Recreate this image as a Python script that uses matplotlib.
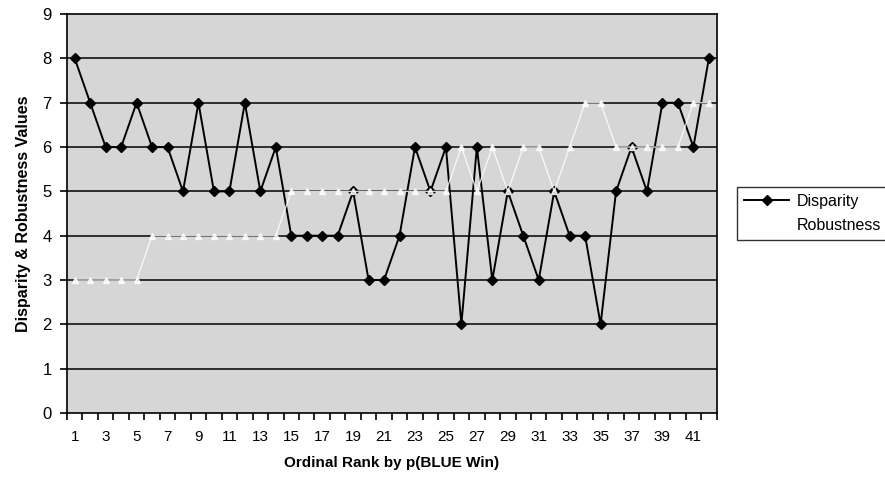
import matplotlib
matplotlib.use("Agg")
import matplotlib.pyplot as plt

plt.rcParams['font.family'] = ['Liberation Sans', 'DejaVu Sans']

# ordinal rank 1..42
ranks = list(range(1, 43))
disparity = [8, 7, 6, 6, 7, 6, 6, 5, 7, 5, 5, 7, 5, 6,
             4, 4, 4, 4, 5, 3, 3, 4, 6, 5, 6, 2, 6, 3,
             5, 4, 3, 5, 4, 4, 2, 5, 6, 5, 7, 7, 6, 8]
# white series, mostly hidden on the grey plot area (estimated)
robustness = [3, 3, 3, 3, 3, 4, 4, 4, 4, 4, 4, 4, 4, 4,
              5, 5, 5, 5, 5, 5, 5, 5, 5, 5, 5, 6, 5, 6,
              5, 6, 6, 5, 6, 7, 7, 6, 6, 6, 6, 6, 7, 7]
tick_labels = [str(r) for r in ranks[::2]]

fig = plt.figure(figsize=(8.85, 4.87), dpi=100)
ax = fig.add_axes([0.0757, 0.152, 0.734, 0.819])
ax.set_facecolor('#d6d6d6')

for v in range(1, 9):
    ax.axhline(v, color='black', linewidth=1.1, zorder=1)

ax.plot(ranks, disparity, color='black', linewidth=1.4, marker='D',
        markersize=5.5, label='Disparity', zorder=3)
ax.plot(ranks, robustness, color='white', linewidth=1.0, marker='^',
        markersize=4, markerfacecolor='white', markeredgecolor='white',
        alpha=0.8, label='Robustness', zorder=4)

ax.set_xlim(0.5, 42.5)
ax.set_ylim(0, 9)
ax.set_yticks(range(0, 10))
ax.set_xticks(ranks[::2])
ax.set_xticklabels(tick_labels)
ax.set_xticks([r + 0.5 for r in range(0, 43)], minor=True)
ax.tick_params(axis='x', which='major', length=0, labelsize=11, pad=12)
ax.tick_params(axis='x', which='minor', length=5, width=1.2, direction='out')
ax.tick_params(axis='y', length=5, width=1.2, labelsize=12, pad=6)
for s in ax.spines.values():
    s.set_color('black')
    s.set_linewidth(1.2)

ax.set_xlabel('Ordinal Rank by p(BLUE Win)', fontsize=11, fontweight='bold',
              labelpad=9)
ax.set_ylabel('Disparity & Robustness Values', fontsize=11.5, fontweight='bold',
              labelpad=8)

leg = fig.legend(loc='upper left', bbox_to_anchor=(0.824, 0.633),
                 fontsize=11.5, frameon=True, fancybox=False,
                 handlelength=2.8, borderpad=0.45, labelspacing=0.55,
                 handletextpad=0.5)
leg.get_frame().set_edgecolor('black')
leg.get_frame().set_linewidth(1.0)

plt.savefig('out.png', dpi=100)
